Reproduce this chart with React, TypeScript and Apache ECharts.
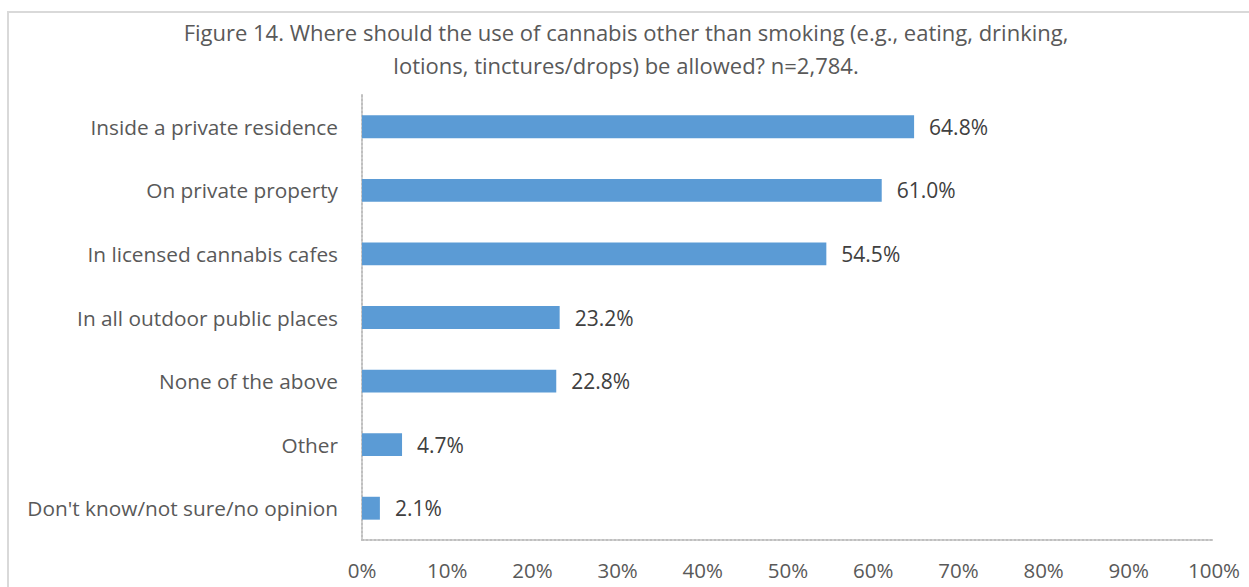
import React, { useEffect, useRef } from "react";
import * as echarts from "echarts";

const categories = [
  "Inside a private residence",
  "On private property",
  "In licensed cannabis cafes",
  "In all outdoor public places",
  "None of the above",
  "Other",
  "Don't know/not sure/no opinion",
];
const values = [64.8, 61.0, 54.5, 23.2, 22.8, 4.7, 2.1];
const titleText =
  "Figure 14. Where should the use of cannabis other than smoking (e.g., eating, drinking,\nlotions, tinctures/drops) be allowed? n=2,784.";

const FONT = "'Open Sans', sans-serif";

export default function App() {
  const ref = useRef<HTMLDivElement>(null);
  useEffect(() => {
    document.body.style.margin = "0";
    const chart = echarts.init(ref.current!, null, { renderer: "svg" });
    chart.setOption({
      animation: false,
      backgroundColor: "#ffffff",
      graphic: [
        {
          type: "rect",
          shape: { x: 8, y: 12, width: 1270, height: 620 },
          style: { fill: "none", stroke: "#d9d9d9", lineWidth: 2 },
          silent: true,
        },
      ],
      title: {
        text: titleText,
        left: 621,
        textAlign: "center",
        top: 10,
        textStyle: {
          fontFamily: FONT,
          fontSize: 22,
          fontWeight: "normal",
          color: "#595959",
          lineHeight: 33,
        },
      },
      grid: { left: 362, right: 35, top: 95, bottom: 47, containLabel: false },
      xAxis: {
        type: "value",
        min: 0,
        max: 100,
        interval: 10,
        axisLine: { show: true, lineStyle: { color: "#bfbfbf", type: "dotted", width: 2 } },
        axisTick: { show: false },
        splitLine: { show: false },
        axisLabel: {
          formatter: "{value}%",
          fontFamily: FONT,
          fontSize: 20.5,
          color: "#595959",
          margin: 19,
        },
      },
      yAxis: {
        type: "category",
        data: categories,
        inverse: true,
        axisLine: { show: true, lineStyle: { color: "#bfbfbf", type: "dotted", width: 2 } },
        axisTick: { show: false },
        axisLabel: {
          fontFamily: FONT,
          fontSize: 20.8,
          color: "#595959",
          margin: 24,
        },
      },
      series: [
        {
          type: "bar",
          data: values,
          barWidth: "36%",
          itemStyle: { color: "#5b9bd5" },
          label: {
            show: true,
            position: "right",
            distance: 15,
            formatter: (p: any) => p.value.toFixed(1) + "%",
            fontFamily: FONT,
            fontSize: 21,
            color: "#404040",
          },
        },
      ],
    });
    return () => chart.dispose();
  }, []);
  return <div ref={ref} style={{ width: 1249, height: 587 }} />;
}
